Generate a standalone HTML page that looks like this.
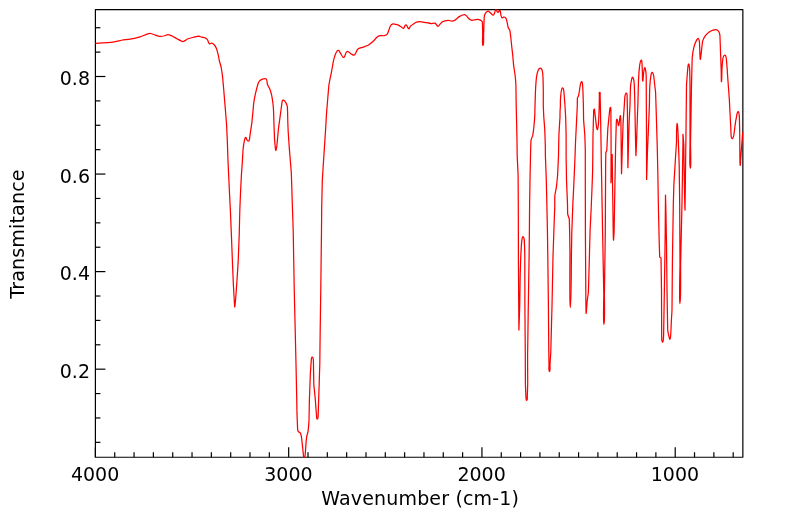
<!DOCTYPE html>
<html><head><meta charset="utf-8"><title>IR Spectrum</title>
<style>
html,body{margin:0;padding:0;background:#fff;}
svg{display:block}
text{font-family:"DejaVu Sans","Liberation Sans",sans-serif;font-size:19px;fill:#000}
</style></head><body>
<svg width="799" height="516" viewBox="0 0 799 516">
<rect width="799" height="516" fill="#fff"/>
<clipPath id="c"><rect x="94.80" y="8.95" width="648.65" height="448.90"/></clipPath>
<g stroke="#000" stroke-width="1.2" fill="none" stroke-linejoin="round">
<rect x="95.40" y="9.55" width="647.45" height="447.70"/>
<line x1="733.19" y1="457.25" x2="733.19" y2="452.25"/>
<line x1="713.86" y1="457.25" x2="713.86" y2="452.25"/>
<line x1="694.53" y1="457.25" x2="694.53" y2="452.25"/>
<line x1="675.21" y1="457.25" x2="675.21" y2="447.25"/>
<line x1="655.88" y1="457.25" x2="655.88" y2="452.25"/>
<line x1="636.55" y1="457.25" x2="636.55" y2="452.25"/>
<line x1="617.23" y1="457.25" x2="617.23" y2="452.25"/>
<line x1="597.90" y1="457.25" x2="597.90" y2="452.25"/>
<line x1="578.57" y1="457.25" x2="578.57" y2="452.25"/>
<line x1="559.24" y1="457.25" x2="559.24" y2="452.25"/>
<line x1="539.92" y1="457.25" x2="539.92" y2="452.25"/>
<line x1="520.59" y1="457.25" x2="520.59" y2="452.25"/>
<line x1="501.26" y1="457.25" x2="501.26" y2="452.25"/>
<line x1="481.94" y1="457.25" x2="481.94" y2="447.25"/>
<line x1="462.61" y1="457.25" x2="462.61" y2="452.25"/>
<line x1="443.28" y1="457.25" x2="443.28" y2="452.25"/>
<line x1="423.96" y1="457.25" x2="423.96" y2="452.25"/>
<line x1="404.63" y1="457.25" x2="404.63" y2="452.25"/>
<line x1="385.30" y1="457.25" x2="385.30" y2="452.25"/>
<line x1="365.98" y1="457.25" x2="365.98" y2="452.25"/>
<line x1="346.65" y1="457.25" x2="346.65" y2="452.25"/>
<line x1="327.32" y1="457.25" x2="327.32" y2="452.25"/>
<line x1="308.00" y1="457.25" x2="308.00" y2="452.25"/>
<line x1="288.67" y1="457.25" x2="288.67" y2="447.25"/>
<line x1="269.34" y1="457.25" x2="269.34" y2="452.25"/>
<line x1="250.01" y1="457.25" x2="250.01" y2="452.25"/>
<line x1="230.69" y1="457.25" x2="230.69" y2="452.25"/>
<line x1="211.36" y1="457.25" x2="211.36" y2="452.25"/>
<line x1="192.03" y1="457.25" x2="192.03" y2="452.25"/>
<line x1="172.71" y1="457.25" x2="172.71" y2="452.25"/>
<line x1="153.38" y1="457.25" x2="153.38" y2="452.25"/>
<line x1="134.05" y1="457.25" x2="134.05" y2="452.25"/>
<line x1="114.73" y1="457.25" x2="114.73" y2="452.25"/>
<line x1="95.40" y1="457.25" x2="95.40" y2="447.25"/>
<line x1="95.40" y1="442.35" x2="100.40" y2="442.35"/>
<line x1="95.40" y1="417.96" x2="100.40" y2="417.96"/>
<line x1="95.40" y1="393.57" x2="100.40" y2="393.57"/>
<line x1="95.40" y1="369.18" x2="105.40" y2="369.18"/>
<line x1="95.40" y1="344.79" x2="100.40" y2="344.79"/>
<line x1="95.40" y1="320.40" x2="100.40" y2="320.40"/>
<line x1="95.40" y1="296.01" x2="100.40" y2="296.01"/>
<line x1="95.40" y1="271.62" x2="105.40" y2="271.62"/>
<line x1="95.40" y1="247.23" x2="100.40" y2="247.23"/>
<line x1="95.40" y1="222.84" x2="100.40" y2="222.84"/>
<line x1="95.40" y1="198.45" x2="100.40" y2="198.45"/>
<line x1="95.40" y1="174.06" x2="105.40" y2="174.06"/>
<line x1="95.40" y1="149.67" x2="100.40" y2="149.67"/>
<line x1="95.40" y1="125.28" x2="100.40" y2="125.28"/>
<line x1="95.40" y1="100.89" x2="100.40" y2="100.89"/>
<line x1="95.40" y1="76.50" x2="105.40" y2="76.50"/>
<line x1="95.40" y1="52.11" x2="100.40" y2="52.11"/>
<line x1="95.40" y1="27.72" x2="100.40" y2="27.72"/>
</g>
<g clip-path="url(#c)"><path d="M95.4 43.4 C95.40 43.40 111.61 42.36 112.5 42.2 C113.39 42.14 121.61 40.15 122.5 40.0 C123.39 39.85 129.11 39.41 130.0 39.2 C130.89 39.09 139.14 37.16 140.0 36.9 C140.86 36.64 146.04 34.37 146.9 34.1 C147.76 33.83 149.71 33.40 150.6 33.5 C151.49 33.60 154.14 34.73 155.0 35.0 C155.86 35.27 159.11 36.30 160.0 36.4 C160.89 36.50 162.87 36.20 163.8 36.0 C164.63 35.80 167.20 34.57 168.1 34.6 C169.00 34.63 171.68 35.87 172.5 36.2 C173.32 36.63 176.70 38.58 177.5 39.0 C178.30 39.42 181.72 41.33 182.5 41.5 C183.28 41.67 184.29 40.96 185.0 40.6 C185.71 40.24 186.67 39.32 187.5 39.0 C188.33 38.68 192.88 37.46 193.8 37.2 C194.62 37.04 197.85 36.25 198.8 36.2 C199.65 36.25 201.02 37.04 201.9 37.2 C202.78 37.46 204.22 37.44 205.0 37.8 C205.78 38.06 206.85 38.94 207.2 39.4 C207.65 39.86 207.83 40.70 208.1 41.2 C208.37 41.80 208.70 43.41 209.4 43.8 C210.10 44.09 211.15 42.91 211.9 43.1 C212.65 43.29 213.81 44.32 214.4 45.0 C214.99 45.68 215.92 47.26 216.2 48.1 C216.58 48.94 217.89 53.53 218.1 54.4 C218.31 55.27 219.19 60.12 219.4 61.0 C219.61 61.88 220.92 66.17 221.1 67.0 C221.28 67.93 222.49 76.21 222.6 77.1 C222.71 77.99 223.52 87.30 223.6 88.2 C223.68 89.10 224.53 99.40 224.6 100.3 C224.67 101.20 225.43 110.10 225.5 111.0 C225.57 111.90 226.54 124.20 226.6 125.1 C226.66 126.00 227.26 139.30 227.3 140.2 C227.34 141.10 227.96 160.10 228.0 161.0 C228.04 161.90 228.86 179.30 228.9 180.2 C228.94 181.10 229.56 194.40 229.6 195.3 C229.64 196.20 230.36 210.10 230.4 211.0 C230.44 211.90 231.36 234.30 231.4 235.2 C231.44 236.10 232.36 260.10 232.4 261.0 C232.44 261.90 233.35 284.30 233.4 285.2 C233.45 286.10 234.54 305.96 234.7 306.9 C234.86 307.74 235.62 299.20 235.7 298.3 C235.78 297.40 236.94 281.10 237.0 280.2 C237.06 279.30 238.16 261.90 238.2 261.0 C238.24 260.10 239.17 236.10 239.2 235.2 C239.23 234.30 239.77 211.90 239.8 211.0 C239.83 210.10 240.46 194.10 240.5 193.2 C240.54 192.30 241.35 176.00 241.4 175.1 C241.45 174.20 242.34 161.90 242.4 161.0 C242.46 160.10 242.92 151.20 243.0 150.3 C243.08 149.40 243.93 143.08 244.1 142.2 C244.27 141.32 244.92 137.94 245.5 137.4 C246.08 136.86 246.46 139.21 246.8 139.7 C247.14 140.19 247.64 141.11 248.1 141.2 C248.56 141.29 249.18 140.65 249.3 140.2 C249.42 139.75 250.17 134.09 250.3 133.2 C250.43 132.31 251.69 123.99 251.8 123.1 C251.91 122.21 252.91 111.90 253.0 111.0 C253.09 110.10 253.67 103.19 253.8 102.3 C253.93 101.41 255.60 93.08 255.8 92.2 C256.00 91.32 257.62 85.06 257.9 84.2 C258.18 83.34 258.80 81.87 259.4 81.2 C260.00 80.53 261.54 79.36 262.4 79.1 C263.26 78.84 265.77 78.46 266.4 79.1 C267.03 79.74 267.11 83.35 267.4 84.2 C267.69 85.05 269.57 88.36 269.9 89.2 C270.23 90.04 271.52 94.42 271.7 95.3 C271.88 96.18 272.90 103.11 273.0 104.0 C273.10 104.89 273.56 111.10 273.6 112.0 C273.64 112.90 273.87 121.20 273.9 122.1 C273.93 123.00 274.45 137.30 274.5 138.2 C274.55 139.10 275.19 146.41 275.3 147.3 C275.41 148.19 275.56 151.08 276.0 150.3 C276.44 149.52 276.90 145.19 277.0 144.3 C277.10 143.41 278.40 128.99 278.5 128.1 C278.60 127.21 280.08 116.89 280.2 116.0 C280.32 115.11 281.37 106.89 281.5 106.0 C281.63 105.11 282.16 100.86 282.5 100.3 C282.84 99.74 284.17 100.40 284.6 100.9 C285.03 101.40 286.97 104.93 287.2 105.8 C287.43 106.67 287.57 111.10 287.6 112.0 C287.63 112.90 287.77 121.10 287.8 122.0 C287.83 122.90 288.15 131.10 288.2 132.0 C288.25 132.90 289.33 148.50 289.4 149.4 C289.47 150.30 291.25 171.70 291.3 172.6 C291.35 173.50 292.27 202.70 292.3 203.6 C292.33 204.50 293.18 229.10 293.2 230.0 C293.22 230.90 294.18 287.20 294.2 288.1 C294.22 289.00 295.18 329.10 295.2 330.0 C295.22 330.90 295.98 363.00 296.0 363.9 C296.02 364.80 296.68 396.10 296.7 397.0 C296.72 397.90 296.97 413.00 297.0 413.9 C297.03 414.80 297.59 428.26 297.6 429.1 C297.71 429.84 297.92 431.04 298.3 431.6 C298.68 432.16 299.84 432.23 300.2 432.8 C300.56 433.37 301.25 435.71 301.4 436.6 C301.55 437.49 302.60 447.11 302.7 448.0 C302.80 448.89 303.37 454.67 303.5 455.5 C303.63 456.33 303.46 458.20 304.3 458.2 C305.14 458.20 305.00 456.34 305.1 455.5 C305.20 454.66 305.77 446.30 305.9 445.4 C305.93 444.50 306.56 437.49 306.7 436.6 C306.84 435.71 307.88 432.49 308.0 431.6 C308.12 430.71 308.96 421.10 309.0 420.2 C309.04 419.30 309.37 400.90 309.4 400.0 C309.43 399.10 310.26 375.70 310.3 374.8 C310.34 373.90 311.20 360.89 311.3 360.0 C311.40 359.11 311.42 356.89 312.3 357.1 C313.18 357.31 313.35 359.60 313.4 360.5 C313.45 361.40 313.76 383.40 313.8 384.3 C313.84 385.20 314.92 395.10 315.0 396.0 C315.08 396.90 315.83 406.70 315.9 407.6 C315.97 408.50 316.50 415.54 316.6 416.4 C316.70 417.26 316.43 419.20 317.3 419.2 C318.17 419.20 318.03 417.27 318.1 416.4 C318.17 415.53 318.47 406.00 318.5 405.1 C318.53 404.20 318.77 395.90 318.8 395.0 C318.83 394.10 319.07 387.90 319.1 387.0 C319.13 386.10 319.73 364.80 319.8 363.9 C319.77 363.00 320.19 330.90 320.2 330.0 C320.21 329.10 320.79 289.00 320.8 288.1 C320.81 287.20 321.49 230.90 321.5 230.0 C321.51 229.10 321.69 208.40 321.7 207.5 C321.71 206.60 322.26 181.30 322.3 180.4 C322.34 179.50 323.84 156.10 323.9 155.2 C323.96 154.30 325.44 131.90 325.5 131.0 C325.56 130.10 326.34 116.20 326.4 115.3 C326.46 114.40 327.53 101.05 327.6 100.2 C327.67 99.25 328.79 85.89 328.9 85.0 C329.01 84.11 330.08 78.88 330.2 78.0 C330.42 77.12 331.23 73.18 331.4 72.3 C331.57 71.42 333.21 62.08 333.4 61.2 C333.59 60.32 335.08 55.04 335.4 54.2 C335.72 53.36 337.08 50.97 337.4 50.6 C337.72 50.33 338.58 50.33 338.9 50.6 C339.22 50.97 340.52 53.44 341.0 54.2 C341.48 54.96 342.65 56.92 343.0 57.2 C343.35 57.48 344.25 57.38 344.5 57.0 C344.75 56.62 345.72 53.22 346.0 52.7 C346.28 52.18 346.91 51.33 347.5 51.4 C348.09 51.47 349.78 52.85 350.3 53.2 C350.82 53.55 351.45 54.10 352.0 54.4 C352.55 54.70 353.37 55.34 354.0 55.2 C354.63 55.06 355.16 54.16 355.5 53.6 C355.84 53.04 356.92 50.24 357.4 49.6 C357.88 48.96 358.86 48.41 359.6 48.1 C360.34 47.79 363.25 47.08 364.1 46.8 C364.95 46.52 367.33 45.77 368.1 45.3 C368.87 44.83 372.54 41.91 373.2 41.3 C373.86 40.69 376.50 37.56 377.2 37.0 C377.90 36.44 379.31 35.86 380.2 35.7 C381.09 35.54 383.42 35.89 384.3 35.7 C385.18 35.51 386.73 34.90 387.3 34.2 C387.87 33.50 388.48 31.04 388.8 30.2 C389.12 29.36 389.87 26.95 390.3 26.2 C390.73 25.45 391.49 24.41 392.3 24.1 C393.11 23.79 394.41 24.15 395.3 24.3 C396.19 24.45 397.58 24.79 398.4 25.1 C399.22 25.51 400.74 26.59 401.4 27.0 C402.06 27.41 402.87 28.68 403.6 28.4 C404.33 28.12 404.59 26.01 404.9 25.6 C405.21 25.29 406.01 24.88 406.4 25.1 C406.79 25.42 407.64 27.31 407.9 27.7 C408.16 28.09 408.49 29.13 408.9 28.9 C409.31 28.67 409.89 26.86 410.5 26.2 C411.11 25.54 412.76 24.41 413.5 23.9 C414.24 23.39 415.66 22.42 416.5 22.1 C417.34 21.78 418.60 21.58 419.5 21.6 C420.40 21.62 423.71 22.15 424.6 22.3 C425.49 22.45 430.15 23.53 431.1 23.6 C431.95 23.67 434.27 22.76 435.1 23.1 C435.93 23.44 437.02 26.22 437.9 26.4 C438.78 26.58 439.47 24.74 440.1 24.1 C440.73 23.46 441.78 21.97 442.6 21.6 C443.42 21.23 447.30 20.45 448.2 20.4 C449.10 20.35 450.80 21.10 451.7 21.1 C452.60 21.10 453.93 20.86 454.7 20.4 C455.47 19.94 458.53 17.07 459.3 16.6 C460.07 16.13 463.64 14.69 464.3 14.6 C464.96 14.51 465.80 15.15 466.3 15.6 C466.80 16.05 468.65 18.55 469.3 19.1 C469.95 19.65 471.01 20.27 471.9 20.3 C472.69 20.33 476.50 19.42 477.4 19.4 C478.30 19.38 479.65 19.70 480.4 20.1 C481.15 20.50 482.27 21.26 482.4 22.1 C482.53 22.94 482.68 34.30 482.7 35.2 C482.72 36.10 482.10 45.50 483.0 45.5 C483.90 45.50 483.56 36.10 483.6 35.2 C483.64 34.30 484.12 18.00 484.2 17.1 C484.28 16.20 485.01 13.85 485.5 13.1 C485.99 12.35 487.10 11.29 488.0 11.2 C488.90 11.21 489.77 12.37 490.5 12.9 C491.23 13.43 492.60 15.07 493.3 15.1 C494.00 15.13 494.21 13.73 494.5 13.1 C494.79 12.47 495.12 10.03 495.8 9.7 C496.48 9.37 497.00 11.56 497.2 11.8 C497.40 12.04 497.77 12.53 498.1 12.4 C498.33 12.27 499.41 9.94 500.0 10.5 C500.59 11.06 500.65 14.23 500.9 15.1 C501.15 15.97 501.53 17.56 502.1 17.9 C502.67 18.24 503.45 16.89 504.1 17.0 C504.75 17.11 505.71 17.94 506.1 18.6 C506.49 19.26 506.90 21.22 507.1 22.1 C507.30 22.98 507.82 26.34 508.1 27.2 C508.38 28.06 509.68 29.83 509.9 30.7 C510.12 31.57 510.80 37.36 510.9 38.2 C511.00 39.14 511.50 44.41 511.6 45.3 C511.70 46.19 512.71 55.10 512.8 56.0 C512.89 56.90 513.49 64.21 513.6 65.1 C513.71 65.99 515.00 74.26 515.1 75.2 C515.20 76.04 515.87 84.30 515.9 85.2 C515.93 86.10 516.18 105.10 516.2 106.0 C516.22 106.90 516.88 134.30 516.9 135.2 C516.92 136.10 517.17 155.10 517.2 156.0 C517.23 156.90 518.08 174.25 518.1 175.2 C518.12 176.05 518.30 205.10 518.3 206.0 C518.30 206.90 518.40 255.10 518.4 256.0 C518.40 256.90 518.88 329.10 518.9 330.0 C518.92 330.90 519.68 306.90 519.7 306.0 C519.72 305.10 520.18 275.90 520.2 275.0 C520.22 274.10 520.76 256.90 520.8 256.0 C520.84 255.10 521.33 246.20 521.4 245.3 C521.47 244.40 522.09 238.79 522.2 238.2 C522.31 237.71 522.71 236.44 523.2 236.7 C523.69 236.96 524.09 238.47 524.2 239.3 C524.31 240.13 524.57 246.40 524.6 247.3 C524.63 248.20 524.80 255.10 524.8 256.0 C524.80 256.90 524.90 305.10 524.9 306.0 C524.90 306.90 525.29 355.10 525.3 356.0 C525.31 356.90 525.39 383.10 525.4 384.0 C525.41 384.90 525.83 395.10 525.9 396.0 C525.97 396.90 525.80 400.40 526.7 400.4 C527.60 400.40 527.25 396.90 527.3 396.0 C527.35 395.10 527.69 384.90 527.7 384.0 C527.71 383.10 527.59 356.90 527.6 356.0 C527.61 355.10 528.29 306.90 528.3 306.0 C528.31 305.10 529.09 256.90 529.1 256.0 C529.11 255.10 529.39 231.10 529.4 230.2 C529.41 229.30 529.59 206.90 529.6 206.0 C529.61 205.10 529.98 181.10 530.0 180.2 C530.02 179.30 530.48 156.90 530.5 156.0 C530.52 155.10 530.90 141.19 531.0 140.3 C531.10 139.41 532.57 136.08 532.8 135.2 C532.93 134.32 533.96 126.05 534.0 125.2 C534.14 124.25 534.76 116.00 534.8 115.1 C534.84 114.20 534.97 106.90 535.0 106.0 C535.03 105.10 535.45 91.20 535.5 90.3 C535.55 89.40 536.38 78.09 536.5 77.2 C536.62 76.31 537.97 70.88 538.3 70.1 C538.63 69.32 539.49 68.10 540.3 68.1 C541.11 68.10 541.87 69.33 542.1 70.1 C542.33 70.87 542.95 76.30 543.0 77.2 C543.05 78.10 543.29 89.40 543.3 90.3 C543.31 91.20 543.28 105.10 543.3 106.0 C543.32 106.90 543.74 116.20 543.8 117.1 C543.86 118.00 544.75 129.30 544.8 130.2 C544.85 131.10 545.28 144.40 545.3 145.3 C545.32 146.20 545.37 155.10 545.4 156.0 C545.43 156.90 546.27 179.30 546.3 180.2 C546.33 181.10 546.88 205.10 546.9 206.0 C546.92 206.90 547.38 229.30 547.4 230.2 C547.42 231.10 547.79 255.10 547.8 256.0 C547.81 256.90 548.39 305.10 548.4 306.0 C548.41 306.90 548.79 351.10 548.8 352.0 C548.81 352.90 548.97 364.10 549.0 365.0 C549.03 365.90 548.60 371.60 549.5 371.6 C550.40 371.60 549.94 365.90 550.0 365.0 C550.06 364.10 550.72 352.90 550.8 352.0 C550.78 351.10 551.98 306.90 552.0 306.0 C552.02 305.10 553.03 256.90 553.0 256.0 C553.07 255.10 553.87 231.10 553.9 230.2 C553.93 229.30 554.72 206.90 554.8 206.0 C554.78 205.10 554.82 196.20 554.9 195.3 C554.98 194.40 556.28 188.09 556.4 187.2 C556.52 186.31 557.54 176.05 557.6 175.2 C557.66 174.25 558.42 156.90 558.5 156.0 C558.48 155.10 558.87 136.10 558.9 135.2 C558.93 134.30 559.91 118.00 560.0 117.1 C559.99 116.20 560.32 106.90 560.4 106.0 C560.38 105.10 560.68 96.20 560.8 95.3 C560.82 94.40 561.56 89.84 561.7 89.3 C561.84 88.76 562.16 87.62 562.7 87.8 C563.24 87.88 563.59 89.12 563.7 89.8 C563.81 90.48 564.43 98.40 564.5 99.3 C564.57 100.20 564.94 105.10 565.0 106.0 C565.06 106.90 565.67 117.20 565.7 118.1 C565.73 119.00 566.09 134.30 566.1 135.2 C566.11 136.10 566.14 155.10 566.1 156.0 C566.16 156.90 566.47 179.30 566.5 180.2 C566.53 181.10 567.47 203.10 567.5 204.0 C567.53 204.90 567.59 213.21 567.7 214.1 C567.81 214.99 569.22 218.20 569.3 219.1 C569.38 220.00 569.68 234.30 569.7 235.2 C569.72 236.10 569.94 255.10 570.0 256.0 C569.96 256.90 569.50 307.60 570.4 307.6 C571.30 307.60 571.38 256.90 571.4 256.0 C571.42 255.10 571.77 232.90 571.8 232.0 C571.83 231.10 572.86 203.90 572.9 203.0 C572.94 202.10 574.01 181.10 574.0 180.2 C574.09 179.30 574.97 157.90 575.0 157.0 C575.03 156.10 575.56 141.20 575.6 140.3 C575.64 139.40 576.56 121.00 576.6 120.1 C576.64 119.20 577.27 106.90 577.3 106.0 C577.33 105.10 577.28 99.19 577.4 98.3 C577.52 97.41 578.50 96.18 578.7 95.3 C578.90 94.42 579.91 87.08 580.1 86.2 C580.29 85.32 580.76 81.93 581.6 81.6 C582.44 81.27 582.50 84.31 582.6 85.2 C582.70 86.09 583.07 94.40 583.1 95.3 C583.13 96.20 583.38 105.10 583.4 106.0 C583.42 106.90 583.56 119.20 583.6 120.1 C583.64 121.00 584.75 134.10 584.8 135.0 C584.85 135.90 585.29 149.10 585.3 150.0 C585.31 150.90 585.30 171.10 585.3 172.0 C585.30 172.90 585.40 231.10 585.4 232.0 C585.40 232.90 585.79 291.10 585.8 292.0 C585.81 292.90 585.96 312.41 586.1 313.3 C586.24 314.19 587.10 301.89 587.2 301.0 C587.30 300.11 588.36 292.90 588.4 292.0 C588.44 291.10 590.12 230.90 590.1 230.0 C590.18 229.10 591.16 208.70 591.2 207.8 C591.24 206.90 592.63 172.90 592.6 172.0 C592.67 171.10 592.98 136.10 593.0 135.2 C593.02 134.30 593.68 110.32 593.7 110.0 C593.72 109.68 594.33 108.89 594.4 109.2 C594.47 109.51 595.39 117.11 595.5 118.0 C595.61 118.89 596.36 126.20 596.5 127.0 C596.64 127.80 597.19 130.24 597.5 129.5 C597.81 128.76 598.53 122.90 598.6 122.0 C598.67 121.10 599.17 107.90 599.2 107.0 C599.23 106.10 599.37 96.17 599.4 95.3 C599.43 94.43 598.83 92.40 599.7 92.4 C600.57 92.40 600.06 94.42 600.1 95.3 C600.14 96.18 600.38 106.10 600.4 107.0 C600.42 107.90 600.88 134.10 600.9 135.0 C600.92 135.90 601.48 171.10 601.5 172.0 C601.52 172.90 602.58 231.10 602.6 232.0 C602.62 232.90 603.79 294.10 603.8 295.0 C603.81 295.90 603.10 324.30 604.0 324.3 C604.90 324.30 604.39 295.90 604.4 295.0 C604.41 294.10 605.29 232.90 605.3 232.0 C605.31 231.10 605.59 172.90 605.6 172.0 C605.61 171.10 605.75 153.86 605.8 153.0 C605.85 152.14 606.73 151.16 606.8 150.3 C606.87 149.44 607.74 129.80 607.8 128.9 C607.86 128.00 609.20 114.69 609.3 113.8 C609.40 112.91 609.70 108.17 610.3 107.5 C610.90 106.83 610.88 111.10 610.9 112.0 C610.92 112.90 611.10 149.10 611.1 150.0 C611.10 150.90 610.97 181.70 611.0 182.6 C611.03 183.50 611.56 165.90 611.6 165.0 C611.64 164.10 612.15 153.60 612.2 154.5 C612.25 155.40 612.49 181.70 612.5 182.6 C612.51 183.50 612.99 214.10 613.0 215.0 C613.01 215.90 613.39 239.20 613.5 240.1 C613.51 241.00 614.08 232.90 614.1 232.0 C614.12 231.10 614.98 180.90 615.0 180.0 C615.02 179.10 615.58 148.70 615.6 147.8 C615.62 146.90 616.25 123.50 616.3 122.6 C616.35 121.70 616.63 118.61 617.2 119.3 C617.77 119.99 618.10 126.17 618.7 125.5 C619.30 124.83 619.90 114.95 620.4 115.7 C620.90 116.45 620.98 128.00 621.0 128.9 C621.02 129.80 621.44 172.80 621.5 173.7 C621.56 174.60 622.27 148.70 622.3 147.8 C622.33 146.90 623.06 123.50 623.1 122.6 C623.14 121.70 624.14 107.90 624.2 107.0 C624.26 106.10 624.77 97.19 624.9 96.3 C625.03 95.41 625.55 93.40 626.2 93.1 C626.85 92.80 627.05 94.59 627.1 95.3 C627.15 96.01 627.39 109.10 627.4 110.0 C627.41 110.90 627.86 166.80 627.9 167.7 C627.94 168.60 628.58 140.90 628.6 140.0 C628.62 139.10 629.16 120.90 629.2 120.0 C629.24 119.10 629.97 105.90 630.0 105.0 C630.03 104.10 630.39 88.10 630.5 87.2 C630.51 86.30 631.56 79.83 631.7 79.2 C631.84 78.57 632.21 76.88 632.7 77.3 C633.19 77.72 633.89 80.31 634.0 81.2 C634.11 82.09 634.57 92.40 634.6 93.3 C634.63 94.20 634.88 106.10 634.9 107.0 C634.92 107.90 635.28 127.10 635.3 128.0 C635.32 128.90 635.80 154.71 635.9 155.6 C636.00 156.49 636.56 140.90 636.6 140.0 C636.64 139.10 637.27 120.90 637.3 120.0 C637.33 119.10 637.87 103.90 637.9 103.0 C637.93 102.10 638.46 81.10 638.5 80.2 C638.54 79.30 639.58 65.99 639.7 65.1 C639.82 64.21 640.42 60.79 641.1 60.2 C641.78 59.61 641.91 62.20 642.0 63.1 C642.09 64.00 642.36 72.20 642.4 73.1 C642.44 74.00 642.32 80.18 642.7 81.0 C643.08 81.82 643.22 76.04 643.4 75.2 C643.48 74.26 644.39 68.40 644.7 67.7 C645.01 67.00 645.46 69.34 645.6 70.1 C645.74 70.86 646.18 75.10 646.2 76.0 C646.22 76.90 646.29 99.10 646.3 100.0 C646.31 100.90 646.50 127.10 646.5 128.0 C646.50 128.90 646.56 178.50 646.6 179.4 C646.64 180.30 647.47 150.90 647.5 150.0 C647.53 149.10 648.46 128.90 648.5 128.0 C648.54 127.10 649.37 105.90 649.4 105.0 C649.43 104.10 649.65 88.70 649.7 87.8 C649.75 86.90 651.09 74.49 651.2 73.9 C651.31 73.31 652.07 71.98 652.5 72.4 C652.93 72.82 653.59 75.51 653.8 76.4 C653.91 77.29 654.50 83.11 654.6 84.0 C654.70 84.89 655.55 91.70 655.6 92.6 C655.65 93.50 656.17 110.60 656.2 111.5 C656.23 112.40 656.87 134.30 656.9 135.2 C656.93 136.10 657.18 144.10 657.2 145.0 C657.22 145.90 657.78 170.60 657.8 171.5 C657.82 172.40 658.28 201.10 658.3 202.0 C658.32 202.90 659.08 236.90 659.1 237.8 C659.12 238.70 659.66 256.77 659.7 257.2 C659.74 257.63 660.98 257.37 661.0 257.8 C661.02 258.23 661.49 289.10 661.5 290.0 C661.51 290.90 661.68 338.30 661.7 339.2 C661.72 340.10 662.41 342.81 662.8 342.0 C663.19 341.19 663.57 336.10 663.6 335.2 C663.63 334.30 664.19 300.90 664.2 300.0 C664.21 299.10 664.79 262.90 664.8 262.0 C664.81 261.10 665.19 232.90 665.2 232.0 C665.21 231.10 665.46 196.10 665.5 195.2 C665.54 194.30 665.98 214.10 666.0 215.0 C666.02 215.90 666.49 244.10 666.5 245.0 C666.51 245.90 666.99 289.10 667.0 290.0 C667.01 290.90 667.65 329.25 667.7 330.1 C667.75 331.05 669.24 338.43 669.7 339.2 C670.16 339.97 670.62 336.10 670.7 335.2 C670.78 334.30 671.35 321.00 671.4 320.1 C671.45 319.20 671.98 310.90 672.0 310.0 C672.02 309.10 672.39 262.90 672.4 262.0 C672.41 261.10 673.28 205.90 673.3 205.0 C673.32 204.10 673.86 185.00 673.9 184.1 C673.94 183.20 676.40 142.90 676.5 142.0 C676.50 141.10 676.49 124.11 677.1 123.5 C677.71 122.79 678.25 139.10 678.3 140.0 C678.35 140.90 679.18 164.30 679.2 165.2 C679.22 166.10 679.69 204.10 679.7 205.0 C679.71 205.90 680.00 264.10 680.0 265.0 C680.00 265.90 679.10 303.50 680.0 303.5 C680.90 303.50 680.58 265.90 680.6 265.0 C680.62 264.10 681.98 203.90 682.0 203.0 C682.02 202.10 682.99 140.90 683.0 140.0 C683.01 139.10 682.87 133.51 683.0 134.4 C683.13 135.29 683.72 144.10 683.8 145.0 C683.78 145.90 684.28 179.10 684.3 180.0 C684.32 180.90 684.89 210.99 685.0 210.1 C685.11 209.21 685.49 170.90 685.5 170.0 C685.51 169.10 685.89 140.90 685.9 140.0 C685.91 139.10 686.48 85.90 686.5 85.0 C686.52 84.10 687.70 68.79 687.8 67.9 C687.90 67.01 688.26 63.38 688.8 64.1 C689.34 64.82 689.65 69.50 689.7 70.4 C689.75 71.30 690.00 84.10 690.0 85.0 C690.00 85.90 690.05 144.10 690.0 145.0 C690.05 145.90 689.40 168.30 690.3 168.3 C691.20 168.30 690.54 145.90 690.5 145.0 C690.56 144.10 691.48 85.90 691.5 85.0 C691.52 84.10 692.14 58.70 692.2 57.8 C692.26 56.90 693.88 47.27 694.1 46.4 C694.32 45.53 696.24 40.79 696.6 40.1 C696.96 39.51 697.95 38.11 698.5 38.6 C699.05 39.09 699.42 41.80 699.5 42.7 C699.58 43.60 699.95 55.65 700.0 56.5 C700.05 57.35 700.17 60.12 700.4 59.3 C700.63 58.48 701.29 52.39 701.4 51.5 C701.51 50.61 702.38 42.27 702.6 41.4 C702.82 40.53 704.88 36.44 705.4 35.7 C705.92 34.96 708.48 32.53 709.2 32.0 C709.92 31.47 712.15 30.40 713.0 30.1 C713.85 29.80 715.22 29.41 716.1 29.6 C716.98 29.79 718.09 30.56 718.6 31.3 C719.11 32.04 719.82 34.20 719.9 35.1 C719.98 36.00 720.47 50.60 720.5 51.5 C720.53 52.40 721.17 69.50 721.2 70.4 C721.23 71.30 721.23 82.56 721.5 81.7 C721.77 80.84 721.94 68.80 722.0 67.9 C722.06 67.00 722.85 58.68 723.0 57.8 C723.25 56.92 724.00 55.00 724.9 55.0 C725.80 55.00 726.05 56.91 726.2 57.8 C726.35 58.69 727.03 67.00 727.1 67.9 C727.17 68.80 727.84 79.10 727.9 80.0 C727.96 80.90 729.25 98.00 729.3 98.9 C729.35 99.80 730.55 123.20 730.6 124.1 C730.65 125.00 731.11 136.02 731.2 136.7 C731.29 137.38 731.88 138.91 732.5 138.6 C733.12 138.29 733.59 136.29 733.8 135.4 C733.91 134.51 735.46 122.49 735.6 121.6 C735.74 120.71 736.97 114.02 737.1 113.4 C737.33 112.78 738.20 111.12 738.5 111.7 C738.80 112.28 739.35 116.90 739.4 117.8 C739.45 118.70 739.69 132.00 739.7 132.9 C739.71 133.80 739.89 157.10 739.9 158.0 C739.91 158.90 739.90 164.35 740.2 165.2 C740.50 166.05 740.53 160.90 740.6 160.0 C740.67 159.10 741.43 148.90 741.5 148.0 C741.57 147.10 742.42 135.90 742.5 135.0 C742.58 134.10 743.00 132.00 743.0 132.0" fill="none" stroke="#ff0000" stroke-width="1.25" stroke-linejoin="round"/></g>
<text x="95.1" y="480.8" text-anchor="middle">4000</text>
<text x="288.4" y="480.8" text-anchor="middle">3000</text>
<text x="481.6" y="480.8" text-anchor="middle">2000</text>
<text x="674.9" y="480.8" text-anchor="middle">1000</text>
<text x="90" y="377.9" text-anchor="end">0.2</text>
<text x="90" y="280.3" text-anchor="end">0.4</text>
<text x="90" y="182.8" text-anchor="end">0.6</text>
<text x="90" y="85.2" text-anchor="end">0.8</text>
<text x="321.3" y="504.8" textLength="197.6" lengthAdjust="spacing">Wavenumber (cm-1)</text>
<text transform="translate(24.4,298.8) rotate(-90)" textLength="129.3" lengthAdjust="spacing">Transmitance</text>
</svg>
</body></html>
